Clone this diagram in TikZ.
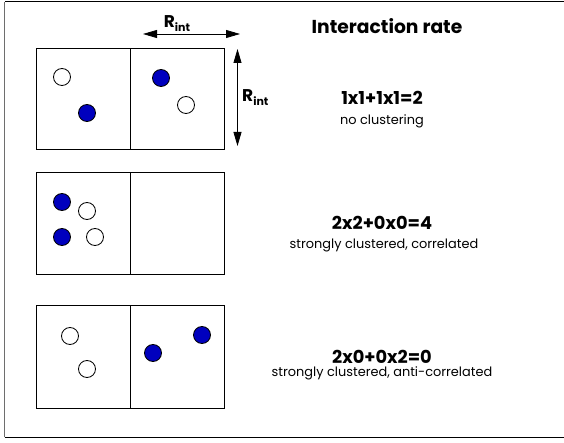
\documentclass[tikz,border=0pt]{standalone}
\usepackage{fontspec}
\setmainfont{Poppins}
\usetikzlibrary{positioning, arrows.meta}
\definecolor{dotblue}{RGB}{0, 0, 190}
\definecolor{framegray}{RGB}{110, 110, 110}

\begin{document}
\begin{tikzpicture}[x=1pt, y=-1pt,
    cell/.style={draw, line width=1pt},
    wdot/.style={circle, draw, line width=0.8pt, fill=white, minimum size=17pt, inner sep=0pt},
    bdot/.style={wdot, fill=dotblue},
    rint/.style={<->, >={Triangle[length=14pt, width=8pt]}, line width=0.8pt},
    title/.style={font=\bfseries\fontsize{18.7}{19}\selectfont, anchor=base},
    rate/.style={font=\bfseries\fontsize{17.8}{18}\selectfont, anchor=base},
    note/.style={font=\fontsize{12.9}{13}\selectfont, anchor=base}]
  \useasboundingbox (0,0) rectangle (564,443);

  % Frame
  \draw[line width=1pt] (570,2) -- (4.5,2);
  \draw[line width=1pt] (4.5,437) -- (570,437);
  \draw[framegray, line width=1.2pt] (4.5,2) -- (4.5,437);

  % Cells
  \foreach \t/\b in {49/150, 173/275, 305/408} {
    \draw[cell] (36,\t) rectangle (224.5,\b);
    \draw[cell] (130,\t) -- (130,\b);
  }

  % Particles
  \node[wdot] (p1) at (62,77) {};
  \node[bdot] (p2) at (87,113) {};
  \node[bdot] (p3) at (161,78) {};
  \node[wdot] (p4) at (186,105) {};

  \node[bdot] (q1) at (62,202) {};
  \node[wdot] (q2) at (87,211) {};
  \node[bdot] (q3) at (62,237) {};
  \node[wdot] (q4) at (95,237) {};

  \node[wdot] (s1) at (70,336) {};
  \node[wdot] (s2) at (87,369) {};
  \node[bdot] (s3) at (153,353) {};
  \node[bdot] (s4) at (202,335) {};

  % Interaction radius
  \coordinate (hl) at (143,34);
  \coordinate (hr) at (240,34);
  \draw[rint] (hl) -- (hr);
  \node[anchor=base] (rh) at (177,28) {\bfseries\fontsize{17}{17}\selectfont R\raisebox{-0.35ex}{\fontsize{11}{11}\selectfont int}};

  \coordinate (vt) at (237.5,49);
  \coordinate (vb) at (237.5,146);
  \draw[rint] (vt) -- (vb);
  \node[anchor=base west, inner sep=0pt] (rv) at (242,102) {\bfseries\fontsize{17}{17}\selectfont R\raisebox{-0.35ex}{\fontsize{11}{11}\selectfont int}};

  % Rates
  \node[title] (head) at (387,34) {Interaction rate};

  \node[rate] (r1) at (382,105) {1x1+1x1=2};
  \node[note] (n1) at (382,125) {no clustering};

  \node[rate] (r2) at (382,230) {2x2+0x0=4};
  \node[note] (n2) at (384,249) {strongly clustered, correlated};

  \node[rate] (r3) at (382,363) {2x0+0x2=0};
  \node[note] (n3) at (382,376) {strongly clustered, anti-correlated};
\end{tikzpicture}
\end{document}
